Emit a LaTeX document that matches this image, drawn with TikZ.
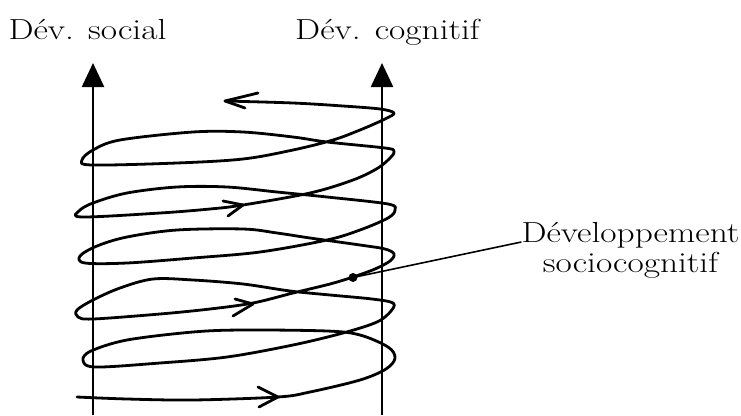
\documentclass[tikz,border=0pt]{standalone}
\usepackage{graphicx}
\usepackage{tikz}
\usetikzlibrary{arrows.meta}
\newcommand{\etire}[1]{\scalebox{1.22}[1]{#1}}

\begin{document}
\begin{tikzpicture}[x=1pt, y=-1pt,
        axe/.style={-{Triangle[width=22pt,length=24pt]}, line width=2.4pt},
        spirale/.style={line width=2.8pt, line cap=round, line join=round},
        etiquette/.style={anchor=base, inner sep=0pt,
                          font=\fontsize{29}{31}\selectfont}
                            ]
        \useasboundingbox (0,0) rectangle (741,415);
        % axes
        \coordinate (socialbas)   at (93,415);
        \coordinate (socialhaut)  at (93,63);
        \coordinate (cognitifbas) at (382,415);
        \coordinate (cognitifhaut) at (382,63);
        \draw[axe] (socialbas) -- (socialhaut);
        \draw[axe] (cognitifbas) -- (cognitifhaut);
        \node[etiquette] (social)   at (87.5,39)  {\etire{Dév. social}};
        \node[etiquette] (cognitif) at (387.5,39) {\etire{Dév. cognitif}};
        % spirale
        \draw[spirale] plot[smooth, tension=0.55] coordinates {
            (77,397) (127,399) (193,400) (278,397) (310,392) (360,380)
            (386,369) (395,358) (388,347) (360,335) (327,331) (243,330)
            (193,332) (127,340) (91,351) (83,360) (95,367) (160,363)
            (227,357) (293,345) (343,333) (377,322) (391,311) (393,303)
            (372,299) (330,295) (290,291) (243,284) (193,280) (153,279)
            (120,288) (93,300) (77,310) (78,317) (93,319) (160,314)
            (210,309) (253,303) (293,293) (330,284) (353,277) (375,269)
            (390,261) (394,254) (385,249) (360,245) (310,238) (277,233)
            (243,229) (177,230) (127,237) (97,246) (80,256) (85,263)
            (127,263) (193,258) (260,252) (327,240) (360,230) (388,218)
            (395,210) (388,204) (327,197) (277,192) (227,187) (177,187)
            (127,193) (93,203) (79,211) (82,217) (160,213) (210,209)
            (243,205) (310,193) (353,180) (378,168) (391,157) (394,151)
            (385,148) (327,142) (293,137) (243,132) (193,132) (120,140)
            (93,150) (82,160) (92,165) (177,163) (243,159) (293,150)
            (333,140) (360,130) (385,119) (394,113) (380,109) (343,106)
            (293,103) (225,101)};
        % pointes
        \draw[spirale] (258,387) -- (278,397) -- (259,407);
        \draw[spirale] (235,299) -- (253,304) -- (233,316);
        \draw[spirale] (223,201) -- (243,205) -- (228,216);
        \draw[spirale] (258,93) -- (225,101) -- (245,108);
        % renvoi
        \fill (353,277.5) circle (4.5pt) coordinate (point);
        \node[etiquette] (devel) at (630.5,242) {\etire{Développement}};
        \node[etiquette] (socio) at (630.5,272) {\etire{sociocognitif}};
        \draw[line width=1.6pt] (point) -- (devel.base west);
\end{tikzpicture}
\end{document}
